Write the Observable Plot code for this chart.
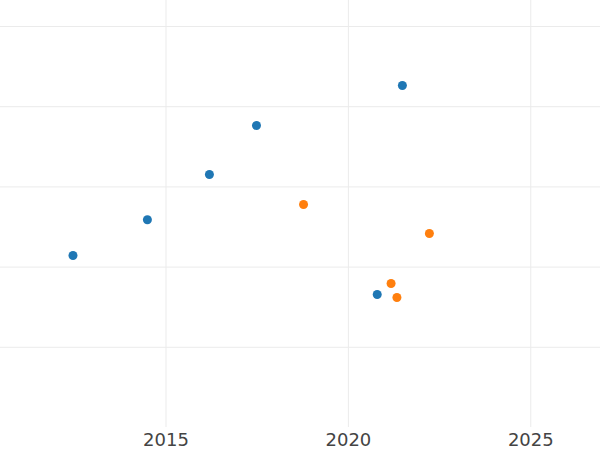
<!DOCTYPE html>
<html>
<head>
<meta charset="utf-8">
<script src="https://cdn.jsdelivr.net/npm/d3@7"></script>
<script src="https://cdn.jsdelivr.net/npm/@observablehq/plot@0.6"></script>
<style>
  html, body { margin: 0; padding: 0; background: #fff; }
  #chart svg { display: block; }
</style>
</head>
<body>
<div id="chart"></div>
<script>
const blueYears  = [2012.45, 2014.49, 2016.19, 2017.48, 2021.48, 2020.79];
const blueValues = [2.145, 2.59, 3.155, 3.766, 4.264, 1.658];
const orangeYears  = [2018.77, 2022.22, 2021.17, 2021.33];
const orangeValues = [2.78, 2.419, 1.796, 1.621];
const seriesNames = ["A", "B"];
const seriesColors = ["#1f77b4", "#ff7f0e"];
const xTicks = [2015, 2020, 2025];
const yTicks = [1, 2, 3, 4, 5];

const data = [
  ...blueYears.map((x, i) => ({x, y: blueValues[i], s: seriesNames[0]})),
  ...orangeYears.map((x, i) => ({x, y: orangeValues[i], s: seriesNames[1]}))
];

const chart = Plot.plot({
  width: 600,
  height: 450,
  marginLeft: 0,
  marginRight: 0,
  marginTop: 0,
  marginBottom: 23,
  style: {fontFamily: "DejaVu Sans", fontSize: "18px", color: "#444", background: "#fff"},
  x: {domain: [2010.463, 2026.911], ticks: xTicks, tickFormat: d => String(d), tickSize: 0, tickPadding: 6, label: null},
  y: {domain: [0, 5.324], axis: null},
  color: {domain: seriesNames, range: seriesColors},
  marks: [
    Plot.gridX(xTicks, {stroke: "#ebebeb", strokeOpacity: 1}),
    Plot.gridY(yTicks, {stroke: "#ebebeb", strokeOpacity: 1}),
    Plot.dot(data, {x: "x", y: "y", fill: "s", r: 4.5}),
    Plot.axisX(xTicks, {tickSize: 0, tickPadding: 6, tickFormat: d => String(d), fontSize: 18, fill: "#444", label: null})
  ]
});
document.getElementById("chart").appendChild(chart);
</script>
</body>
</html>
